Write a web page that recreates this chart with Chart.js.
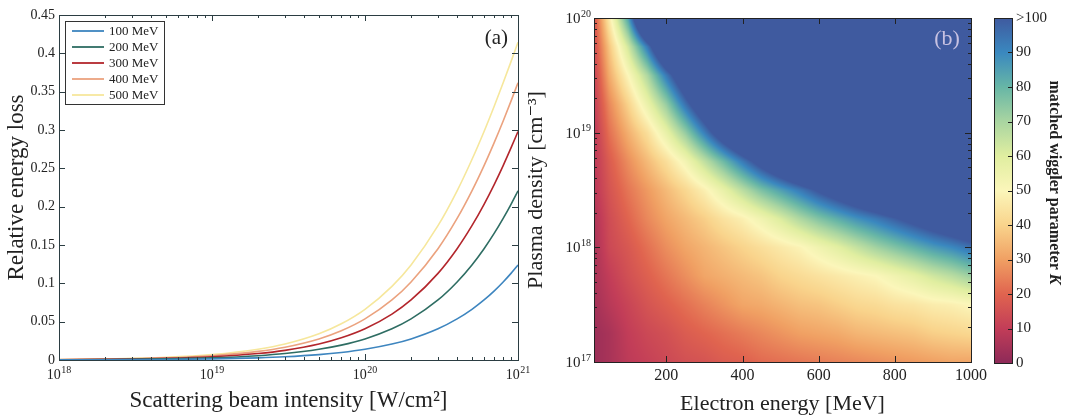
<!DOCTYPE html>
<html lang="en">
<head>
<meta charset="UTF-8">
<title>Relative energy loss and matched wiggler parameter</title>
<script src="https://cdn.jsdelivr.net/npm/chart.js"></script>
<style>
    body {
        margin: 0;
        width: 1065px;
        height: 417px;
        overflow: hidden;
        position: relative;
        background: #fff;
    }
    .panel { position: absolute; top: 0; height: 417px; }
    #lossPanel { left: 0; width: 530px; }
    #kPanel { left: 515px; width: 473px; }
    #barPanel { left: 985px; width: 80px; }
</style>
</head>
<body>
<div class="panel" id="lossPanel"><canvas id="lossChart"></canvas></div>
<div class="panel" id="kPanel"><canvas id="kChart"></canvas></div>
<div class="panel" id="barPanel"><canvas id="barChart"></canvas></div>

<script>
// ---- panel (a): relative energy loss vs scattering beam intensity ----
const beamEnergies = [100, 200, 300, 400, 500];
const intensity = [1e18, 2e18, 5e18, 1e19, 2e19, 3e19, 5e19, 7e19, 1e20, 1.5e20, 2e20, 3e20, 4e20, 5e20, 6e20, 7e20, 8e20, 9e20, 1e21];
const loss100 = [0.00014, 0.00028, 0.00071, 0.00141, 0.00282, 0.00423, 0.00703, 0.00982, 0.0140, 0.0208, 0.0275, 0.0407, 0.0536, 0.0661, 0.0783, 0.0902, 0.1018, 0.1130, 0.1240];
const loss200 = [0.00028, 0.00057, 0.00141, 0.00282, 0.00563, 0.00842, 0.0140, 0.0194, 0.0275, 0.0407, 0.0536, 0.0783, 0.1018, 0.1240, 0.1452, 0.1654, 0.1847, 0.2031, 0.2207];
const loss300 = [0.00042, 0.00085, 0.00212, 0.00423, 0.00842, 0.0126, 0.0208, 0.0289, 0.0407, 0.0599, 0.0783, 0.1130, 0.1452, 0.1752, 0.2031, 0.2292, 0.2536, 0.2766, 0.2981];
const loss400 = [0.00057, 0.00113, 0.00282, 0.00563, 0.0112, 0.0167, 0.0275, 0.0381, 0.0536, 0.0783, 0.1018, 0.1452, 0.1847, 0.2207, 0.2536, 0.2839, 0.3118, 0.3377, 0.3616];
const loss500 = [0.00071, 0.00141, 0.00353, 0.00703, 0.0140, 0.0208, 0.0342, 0.0472, 0.0661, 0.0960, 0.1240, 0.1752, 0.2207, 0.2615, 0.2981, 0.3314, 0.3616, 0.3892, 0.4145];
const intensityTicks = [1e18, 1e19, 1e20, 1e21];
const intensityMinor = [2e18, 3e18, 4e18, 5e18, 6e18, 7e18, 8e18, 9e18, 2e19, 3e19, 4e19, 5e19, 6e19, 7e19, 8e19, 9e19, 2e20, 3e20, 4e20, 5e20, 6e20, 7e20, 8e20, 9e20];
const lossTicks = [0, 0.05, 0.1, 0.15, 0.2, 0.25, 0.3, 0.35, 0.4, 0.45];

// ---- panel (b): matched wiggler parameter K on (energy, density) grid ----
// values above 100 only show as the ">100" colour; they are rough estimates
const energyNodes = [0, 50, 100, 150, 200, 250, 300, 350, 400, 450, 500, 550, 600, 650, 700, 750, 800, 850, 900, 950, 1000];
const densityExp = [20, 19.75, 19.5, 19.25, 19, 18.75, 18.5, 18.25, 18, 17.75, 17.5, 17.25, 17];
const kGrid = [
    [8, 46, 85, 143, 150, 150, 150, 150, 150, 150, 150, 150, 150, 150, 150, 150, 150, 150, 150, 150, 150],
    [8, 37, 63, 93, 128, 150, 150, 150, 150, 150, 150, 150, 150, 150, 150, 150, 150, 150, 150, 150, 150],
    [6, 32, 50, 69, 93, 116, 140, 150, 150, 150, 150, 150, 150, 150, 150, 150, 150, 150, 150, 150, 150],
    [6, 26, 40, 56, 73, 95, 116, 135, 150, 150, 150, 150, 150, 150, 150, 150, 150, 150, 150, 150, 150],
    [5, 22, 33, 43, 57, 73, 92, 112, 130, 148, 150, 150, 150, 150, 150, 150, 150, 150, 150, 150, 150],
    [6, 18, 27, 35, 43, 53, 66, 79, 93, 107, 120, 133, 146, 150, 150, 150, 150, 150, 150, 150, 150],
    [6, 16, 23, 29, 35, 41, 48, 57, 67, 77, 85, 93, 102, 110, 118, 126, 134, 142, 150, 150, 150],
    [4, 14, 20, 26, 31, 35, 39, 44, 48, 54, 61, 69, 76, 82, 88, 93, 99, 105, 111, 117, 123],
    [3, 13, 17, 22, 27, 31, 34, 37, 40, 43, 46, 49, 54, 59, 65, 71, 76, 81, 86, 90, 95],
    [4, 10, 15, 19, 23, 27, 31, 33, 35, 37, 40, 42, 44, 46, 48, 50, 54, 58, 63, 67, 72],
    [3, 8, 12, 16, 19, 22, 25, 28, 31, 32, 34, 36, 37, 39, 41, 42, 44, 45, 47, 48, 50],
    [2, 5, 10, 13, 15, 18, 20, 22, 24, 26, 28, 30, 31, 32, 34, 35, 36, 37, 39, 40, 41],
    [2, 5, 9, 11, 13, 15, 16, 18, 19, 21, 22, 23, 24, 25, 26, 27, 28, 29, 30, 31, 31]
];
const energyTicks = [200, 400, 600, 800, 1000];
const densityTicks = [1e17, 1e18, 1e19, 1e20];
const densityMinor = [2e17, 3e17, 4e17, 5e17, 6e17, 7e17, 8e17, 9e17, 2e18, 3e18, 4e18, 5e18, 6e18, 7e18, 8e18, 9e18, 2e19, 3e19, 4e19, 5e19, 6e19, 7e19, 8e19, 9e19];
const kTicks = [0, 10, 20, 30, 40, 50, 60, 70, 80, 90, 100];
const kColors = ['#8e2a58', '#c23d58', '#e0644f', '#f0a063', '#f9d48c', '#fbf6ba', '#e0eea0', '#a9d5a1', '#67b6a6', '#3a88bf', '#3f5a9f'];

const lineColors = ['#3d85bf', '#2e6d63', '#b3262c', '#eba27e', '#f6e79c'];
const serif = '"Liberation Serif", "DejaVu Serif", serif';
const ink = '#222';

const kRgb = kColors.map(h => [1, 3, 5].map(i => parseInt(h.slice(i, i + 2), 16)));
function kToRgb(k) {
    const t = Math.max(0, Math.min(100, k)) / 10;
    const i = Math.min(Math.floor(t), kRgb.length - 2), f = t - i;
    const a = kRgb[i], b = kRgb[i + 1];
    return [a[0] + (b[0] - a[0]) * f, a[1] + (b[1] - a[1]) * f, a[2] + (b[2] - a[2]) * f];
}

// "10" with a raised exponent
function drawPower(ctx, exp, x, baseY, align, size) {
    const small = Math.round(size * 0.68);
    ctx.font = size + 'px ' + serif;
    const w1 = ctx.measureText('10').width;
    ctx.font = small + 'px ' + serif;
    const w2 = ctx.measureText(String(exp)).width;
    const total = w1 + w2 + 0.5;
    const left = align === 'center' ? x - total / 2 : align === 'right' ? x - total : x;
    ctx.textAlign = 'left';
    ctx.textBaseline = 'alphabetic';
    ctx.fillStyle = ink;
    ctx.font = size + 'px ' + serif;
    ctx.fillText('10', left, baseY);
    ctx.font = small + 'px ' + serif;
    ctx.fillText(String(exp), left + w1 + 0.5, baseY - size * 0.42);
}

// box around the plot with inward ticks on all four sides
const framePlugin = {
    id: 'frame',
    afterDraw(chart, args, opts) {
        const {ctx, chartArea: a, scales: {x, y}} = chart;
        ctx.save();
        ctx.strokeStyle = opts.color || ink;
        ctx.lineWidth = 1;
        const seg = (x1, y1, x2, y2) => { ctx.beginPath(); ctx.moveTo(x1, y1); ctx.lineTo(x2, y2); ctx.stroke(); };
        const xt = (vals, len) => vals.forEach(v => {
            const px = Math.round(x.getPixelForValue(v)) + 0.5;
            seg(px, a.bottom, px, a.bottom - len);
            seg(px, a.top, px, a.top + len);
        });
        const yt = (vals, len) => vals.forEach(v => {
            const py = Math.round(y.getPixelForValue(v)) + 0.5;
            seg(a.left, py, a.left + len, py);
            seg(a.right, py, a.right - len, py);
        });
        xt(opts.xMajor || [], 6);
        xt(opts.xMinor || [], 3);
        yt(opts.yMajor || [], 6);
        yt(opts.yMinor || [], 3);
        ctx.strokeRect(Math.round(a.left) + 0.5, Math.round(a.top) + 0.5, Math.round(a.right - a.left), Math.round(a.bottom - a.top));
        ctx.restore();
    }
};

const lossLabels = {
    id: 'lossLabels',
    afterDraw(chart) {
        const {ctx, chartArea: a, scales: {x}} = chart;
        ctx.save();
        intensityTicks.forEach(v => drawPower(ctx, Math.round(Math.log10(v)), x.getPixelForValue(v), 379, 'center', 14));
        // legend box
        const bx = a.left + 6, by = a.top + 6, bw = 99, bh = 83;
        ctx.fillStyle = '#fff';
        ctx.fillRect(bx, by, bw, bh);
        ctx.strokeStyle = '#333';
        ctx.lineWidth = 1;
        ctx.strokeRect(bx + 0.5, by + 0.5, bw, bh);
        ctx.font = '13px ' + serif;
        ctx.textBaseline = 'middle';
        ctx.textAlign = 'left';
        chart.data.datasets.forEach((ds, i) => {
            const ly = by + 10 + i * 16;
            ctx.strokeStyle = ds.borderColor;
            ctx.lineWidth = 1.8;
            ctx.beginPath(); ctx.moveTo(bx + 7, ly); ctx.lineTo(bx + 39, ly); ctx.stroke();
            ctx.fillStyle = ink;
            ctx.fillText(ds.label, bx + 44, ly + 1);
        });
        ctx.font = '21px ' + serif;
        ctx.textAlign = 'right';
        ctx.fillStyle = ink;
        ctx.fillText('(a)', a.right - 10, a.top + 23);
        ctx.restore();
    }
};

new Chart(document.getElementById('lossChart'), {
    type: 'line',
    data: {
        datasets: [loss100, loss200, loss300, loss400, loss500].map((series, i) => ({
            label: beamEnergies[i] + ' MeV',
            data: intensity.map((v, j) => ({x: v, y: series[j]})),
            borderColor: lineColors[i],
            borderWidth: 1.6,
            pointRadius: 0,
            cubicInterpolationMode: 'monotone',
            fill: false
        }))
    },
    options: {
        responsive: true,
        maintainAspectRatio: false,
        animation: false,
        layout: { padding: { top: 15, right: 12, left: 0, bottom: 0 } },
        plugins: {
            legend: { display: false },
            tooltip: { enabled: false },
            frame: { xMajor: intensityTicks, xMinor: intensityMinor, yMajor: lossTicks, color: '#2b3d42' }
        },
        scales: {
            x: {
                type: 'logarithmic', min: 1e18, max: 1e21,
                grid: { display: false, drawTicks: false }, border: { display: false },
                afterBuildTicks: s => { s.ticks = intensityTicks.map(v => ({value: v})); },
                ticks: { callback: () => '' },
                afterFit: s => { s.height = 57; },
                title: { display: true, text: 'Scattering beam intensity [W/cm²]', color: ink, font: { family: serif, size: 23 }, padding: { top: 0, bottom: 2 } }
            },
            y: {
                min: 0, max: 0.45,
                grid: { display: false, drawTicks: false }, border: { display: false },
                afterBuildTicks: s => { s.ticks = lossTicks.map(v => ({value: v})); },
                ticks: { padding: 4, color: ink, font: { family: serif, size: 14 }, callback: v => String(+v.toFixed(2)) },
                afterFit: s => { s.width = 59; },
                title: { display: true, text: 'Relative energy loss', color: ink, font: { family: serif, size: 23 }, padding: { top: 3, bottom: 0 } }
            }
        }
    },
    plugins: [framePlugin, lossLabels]
});

// heatmap drawn per pixel through the chart's own scales
const heatmapPlugin = {
    id: 'heatmap',
    beforeDatasetsDraw(chart) {
        const {ctx, chartArea: a, scales: {x, y}} = chart;
        const w = Math.round(a.right - a.left), h = Math.round(a.bottom - a.top);
        const off = document.createElement('canvas');
        off.width = w; off.height = h;
        const octx = off.getContext('2d');
        const img = octx.createImageData(w, h);
        const nR = densityExp.length, nC = energyNodes.length;
        const rowStep = densityExp[0] - densityExp[1], colStep = energyNodes[1] - energyNodes[0];
        for (let j = 0; j < h; j++) {
            const L = Math.log10(y.getValueForPixel(a.top + j + 0.5));
            const fr = Math.max(0, Math.min(nR - 1, (densityExp[0] - L) / rowStep));
            const r0 = Math.min(Math.floor(fr), nR - 2), tr = fr - r0;
            for (let i = 0; i < w; i++) {
                const E = x.getValueForPixel(a.left + i + 0.5);
                const fc = Math.max(0, Math.min(nC - 1, (E - energyNodes[0]) / colStep));
                const c0 = Math.min(Math.floor(fc), nC - 2), tc = fc - c0;
                const top = (1 - tc) * kGrid[r0][c0] + tc * kGrid[r0][c0 + 1];
                const bot = (1 - tc) * kGrid[r0 + 1][c0] + tc * kGrid[r0 + 1][c0 + 1];
                const rgb = kToRgb((1 - tr) * top + tr * bot);
                const p = (j * w + i) * 4;
                img.data[p] = rgb[0]; img.data[p + 1] = rgb[1]; img.data[p + 2] = rgb[2]; img.data[p + 3] = 255;
            }
        }
        octx.putImageData(img, 0, 0);
        ctx.drawImage(off, Math.round(a.left), Math.round(a.top));
    },
    afterDraw(chart) {
        const {ctx, chartArea: a, scales: {x, y}} = chart;
        ctx.save();
        densityTicks.forEach(v => drawPower(ctx, Math.round(Math.log10(v)), a.left - 3, y.getPixelForValue(v) + 5, 'right', 15));
        ctx.font = '16px ' + serif;
        ctx.textAlign = 'center';
        ctx.textBaseline = 'alphabetic';
        ctx.fillStyle = ink;
        energyTicks.forEach(v => ctx.fillText(String(v), x.getPixelForValue(v), 380));
        ctx.font = '22px ' + serif;
        ctx.fillStyle = '#c8c2e2';
        ctx.fillText('(b)', a.right - 24, a.top + 27);
        ctx.restore();
    }
};

new Chart(document.getElementById('kChart'), {
    type: 'scatter',
    data: { datasets: [] },
    options: {
        responsive: true,
        maintainAspectRatio: false,
        animation: false,
        layout: { padding: { top: 18, right: 17, left: 0, bottom: 0 } },
        plugins: {
            legend: { display: false },
            tooltip: { enabled: false },
            frame: { xMajor: energyTicks, yMajor: densityTicks, yMinor: densityMinor, color: ink }
        },
        scales: {
            x: {
                type: 'linear', min: 10, max: 1000,
                grid: { display: false, drawTicks: false }, border: { display: false },
                afterBuildTicks: s => { s.ticks = energyTicks.map(v => ({value: v})); },
                ticks: { callback: () => '' },
                afterFit: s => { s.height = 55; },
                title: { display: true, text: 'Electron energy [MeV]', color: ink, font: { family: serif, size: 22 }, padding: { top: 0, bottom: 0 } }
            },
            y: {
                type: 'logarithmic', min: 1e17, max: 1e20,
                grid: { display: false, drawTicks: false }, border: { display: false },
                afterBuildTicks: s => { s.ticks = densityTicks.map(v => ({value: v})); },
                ticks: { callback: () => '' },
                afterFit: s => { s.width = 79; },
                title: { display: true, text: 'Plasma density [cm⁻³]', color: ink, font: { family: serif, size: 22 }, padding: { top: 8, bottom: 0 } }
            }
        }
    },
    plugins: [heatmapPlugin, framePlugin]
});

// colour bar for K
const colorbarPlugin = {
    id: 'colorbar',
    beforeDatasetsDraw(chart) {
        const {ctx, chartArea: a, scales: {y}} = chart;
        const y0 = y.getPixelForValue(kTicks[0]), y1 = y.getPixelForValue(kTicks[kTicks.length - 1]);
        const g = ctx.createLinearGradient(0, y0, 0, y1);
        kTicks.forEach((v, i) => g.addColorStop((v - kTicks[0]) / (kTicks[kTicks.length - 1] - kTicks[0]), kColors[i]));
        ctx.save();
        ctx.fillStyle = g;
        ctx.fillRect(a.left, a.top, a.right - a.left, a.bottom - a.top);
        ctx.strokeStyle = ink;
        ctx.lineWidth = 1;
        kTicks.slice(1, -1).forEach(v => {
            const py = Math.round(y.getPixelForValue(v)) + 0.5;
            ctx.beginPath(); ctx.moveTo(a.right, py); ctx.lineTo(a.right - 4, py); ctx.stroke();
        });
        ctx.strokeRect(Math.round(a.left) + 0.5, Math.round(a.top) + 0.5, Math.round(a.right - a.left), Math.round(a.bottom - a.top));
        // rotated title, reading top to bottom
        ctx.translate(69, (a.top + a.bottom) / 2 - 8);
        ctx.rotate(Math.PI / 2);
        ctx.fillStyle = ink;
        ctx.textBaseline = 'middle';
        ctx.font = 'bold 16px ' + serif;
        const main = 'matched wiggler parameter ';
        const wMain = ctx.measureText(main).width;
        ctx.font = 'italic bold 16px ' + serif;
        const wK = ctx.measureText('K').width;
        ctx.textAlign = 'left';
        ctx.font = 'bold 16px ' + serif;
        ctx.fillText(main, -(wMain + wK) / 2, 0);
        ctx.font = 'italic bold 16px ' + serif;
        ctx.fillText('K', -(wMain + wK) / 2 + wMain, 0);
        ctx.restore();
    }
};

new Chart(document.getElementById('barChart'), {
    type: 'scatter',
    data: { datasets: [] },
    options: {
        responsive: true,
        maintainAspectRatio: false,
        animation: false,
        layout: { padding: { top: 18, right: 0, left: 9, bottom: 54 } },
        plugins: { legend: { display: false }, tooltip: { enabled: false } },
        scales: {
            x: { display: false, min: 0, max: 1 },
            y: {
                position: 'right', min: 0, max: 100,
                grid: { display: false, drawTicks: false }, border: { display: false },
                afterBuildTicks: s => { s.ticks = kTicks.map(v => ({value: v})); },
                ticks: { padding: 4, color: ink, font: { family: serif, size: 15 }, callback: v => v === 100 ? '>100' : String(v) },
                afterFit: s => { s.width = 53; }
            }
        }
    },
    plugins: [colorbarPlugin]
});
</script>
</body>
</html>
